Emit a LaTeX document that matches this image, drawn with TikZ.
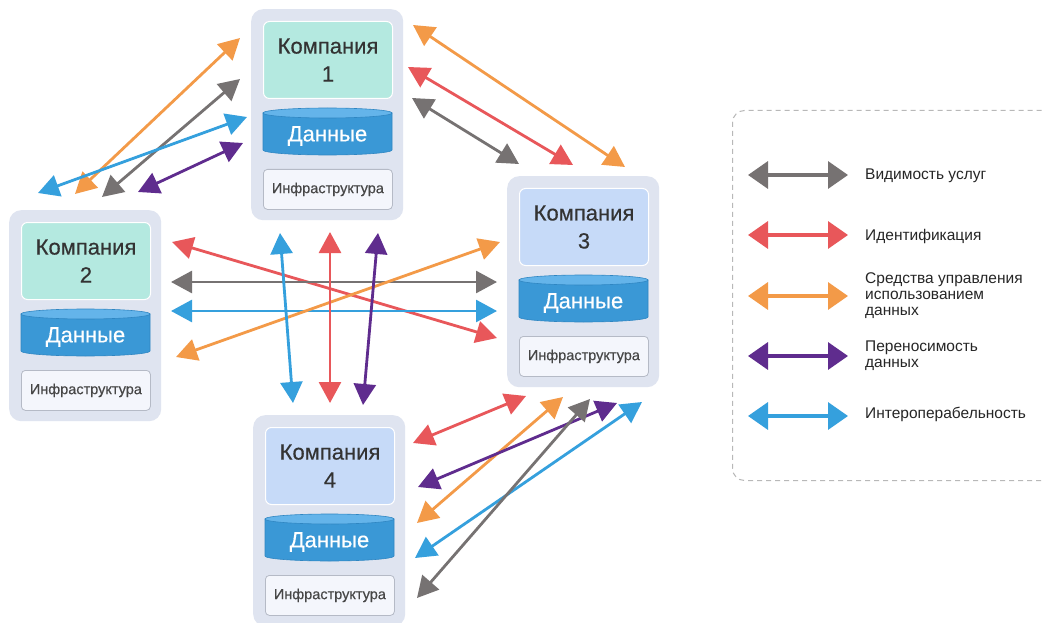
\documentclass[tikz,border=0pt]{standalone}
\usepackage{fontspec}
\setmainfont{Liberation Sans}
\newfontfamily\medfont[FakeBold=0.4]{Liberation Sans}
\usetikzlibrary{arrows.meta,calc}
\definecolor{cgray}{HTML}{767272}
\definecolor{cred}{HTML}{E8575A}
\definecolor{corange}{HTML}{F39A48}
\definecolor{cpurple}{HTML}{5F2C8E}
\definecolor{cblue}{HTML}{35A0DD}
\definecolor{outerbg}{HTML}{DFE4F0}
\definecolor{mint}{HTML}{B4E9E0}
\definecolor{lblue}{HTML}{C6DAF8}
\definecolor{cylbody}{HTML}{3A98D6}
\definecolor{cylline}{HTML}{2F86C2}
\definecolor{cyltop}{HTML}{64B4EA}
\definecolor{infrabg}{HTML}{F4F6FC}
\definecolor{infraline}{HTML}{B5BAC6}
\definecolor{txt}{HTML}{333333}
\definecolor{legline}{HTML}{B8B8B8}
\tikzset{
  outerbox/.style={draw=none, fill=outerbg, rounded corners=12pt, minimum width=152pt, minimum height=211pt, inner sep=0pt},
  headbox/.style={draw=white, line width=1pt, rounded corners=6pt, minimum width=129pt, minimum height=77pt, inner sep=0pt, align=center, text=txt, font=\medfont\fontsize{22}{28}\selectfont},
  datatext/.style={text=white, font=\medfont\fontsize{22}{24}\selectfont, inner sep=0pt},
  infrabox/.style={draw=infraline, fill=infrabg, line width=0.8pt, rounded corners=4pt, minimum width=129pt, minimum height=40pt, inner sep=0pt, text=txt!90!white, font=\medfont\fontsize{14.5}{16}\selectfont},
  arr/.style={line width=2.8pt, draw=#1, {Triangle[length=21pt,width=22pt]}-{Triangle[length=21pt,width=22pt]}},
  legarr/.style={line width=3.4pt, draw=#1, {Triangle[length=20pt,width=27pt]}-{Triangle[length=20pt,width=27pt]}},
  legtext/.style={anchor=west, align=left, text=black!85, font=\fontsize{15.5}{16}\selectfont, inner sep=0pt}
}
\newcommand\company[5]{%
  \begin{scope}[shift={(#2,#3)}]
    \node[outerbox, anchor=north west] (#1) at (0,0) {};
    \node[headbox, fill=#4, anchor=north west] (#1h) at (12,12) {Компания\\#5};
    \fill[cylbody, draw=cylline, line width=0.6pt] (12,104) -- (12,141) arc[start angle=180,end angle=0,x radius=64.5,y radius=5] -- (141,104) -- cycle;
    \fill[cyltop, draw=cylline, line width=0.6pt] (76.5,104) ellipse[x radius=64.5,y radius=5];
    \node[datatext] (#1d) at (76.5,127) {Данные};
    \node[infrabox, anchor=north west] (#1i) at (12,160) {Инфраструктура};
  \end{scope}}
\begin{document}
\begin{tikzpicture}[x=1pt,y=-1pt]
\clip (0,0) rectangle (1042,623);
\fill[white] (0,0) rectangle (1042,623);
\company{c1}{251}{9}{mint}{1}
\company{c2}{9}{210}{mint}{2}
\company{c3}{507}{176}{lblue}{3}
\company{c4}{253}{415}{lblue}{4}
% C1 - C2
\coordinate (a1) at (240,38);  \coordinate (a2) at (75,194);
\coordinate (b1) at (240,79);  \coordinate (b2) at (102,197);
\coordinate (d1) at (247,117); \coordinate (d2) at (38,193);
\coordinate (e1) at (243,143); \coordinate (e2) at (138,192);
\draw[arr=corange] (a1) -- (a2);
\draw[arr=cgray] (b1) -- (b2);
\draw[arr=cblue] (d1) -- (d2);
\draw[arr=cpurple] (e1) -- (e2);
% C1 - C3
\coordinate (f1) at (413,25);  \coordinate (f2) at (625,167);
\coordinate (g1) at (408,67);  \coordinate (g2) at (573,165);
\coordinate (h1) at (412,98);  \coordinate (h2) at (519,164);
\draw[arr=corange] (f1) -- (f2);
\draw[arr=cred] (g1) -- (g2);
\draw[arr=cgray] (h1) -- (h2);
% C2 - C3
\coordinate (i1) at (172,242); \coordinate (i2) at (497,338);
\coordinate (j1) at (171,282); \coordinate (j2) at (497,282);
\coordinate (k1) at (171,311); \coordinate (k2) at (497,311);
\coordinate (l1) at (176,357); \coordinate (l2) at (500,242);
\draw[arr=cred] (i1) -- (i2);
\draw[arr=cgray] (j1) -- (j2);
\draw[arr=cblue] (k1) -- (k2);
\draw[arr=corange] (l1) -- (l2);
% C1 - C4
\coordinate (m1) at (280,233); \coordinate (m2) at (293,403);
\coordinate (n1) at (330,232); \coordinate (n2) at (330,403);
\coordinate (o1) at (378,233); \coordinate (o2) at (363,405);
\draw[arr=cblue] (m1) -- (m2);
\draw[arr=cred] (n1) -- (n2);
\draw[arr=cpurple] (o1) -- (o2);
% C3 - C4
\coordinate (p1) at (526,396); \coordinate (p2) at (413,443);
\coordinate (q1) at (563,397); \coordinate (q2) at (417,523);
\coordinate (r1) at (617,403); \coordinate (r2) at (418,487);
\coordinate (s1) at (642,402); \coordinate (s2) at (415,558);
\coordinate (t1) at (590,399); \coordinate (t2) at (417,598);
\draw[arr=cred] (p1) -- (p2);
\draw[arr=corange] (q1) -- (q2);
\draw[arr=cpurple] (r1) -- (r2);
\draw[arr=cblue] (s1) -- (s2);
\draw[arr=cgray] (t1) -- (t2);
% legend
\node[draw=legline, dash pattern=on 5pt off 4pt, line width=1pt, rounded corners=12pt, minimum width=330pt, minimum height=370pt, anchor=north west] (leg) at (732,110) {};
\coordinate (la1) at (748,175); \coordinate (la2) at (848,175);
\coordinate (lb1) at (748,235); \coordinate (lb2) at (848,235);
\coordinate (lc1) at (748,296); \coordinate (lc2) at (848,296);
\coordinate (ld1) at (748,356); \coordinate (ld2) at (848,356);
\coordinate (le1) at (748,416); \coordinate (le2) at (848,416);
\draw[legarr=cgray] (la1) -- (la2);
\draw[legarr=cred] (lb1) -- (lb2);
\draw[legarr=corange] (lc1) -- (lc2);
\draw[legarr=cpurple] (ld1) -- (ld2);
\draw[legarr=cblue] (le1) -- (le2);
\node[legtext] (lt1) at (865,176) {Видимость услуг};
\node[legtext] (lt2) at (865,236) {Идентификация};
\node[legtext] (lt3) at (865,296) {Средства управления\\использованием\\данных};
\node[legtext] (lt4) at (865,356) {Переносимость\\данных};
\node[legtext] (lt5) at (865,414) {Интероперабельность};
\end{tikzpicture}
\end{document}
